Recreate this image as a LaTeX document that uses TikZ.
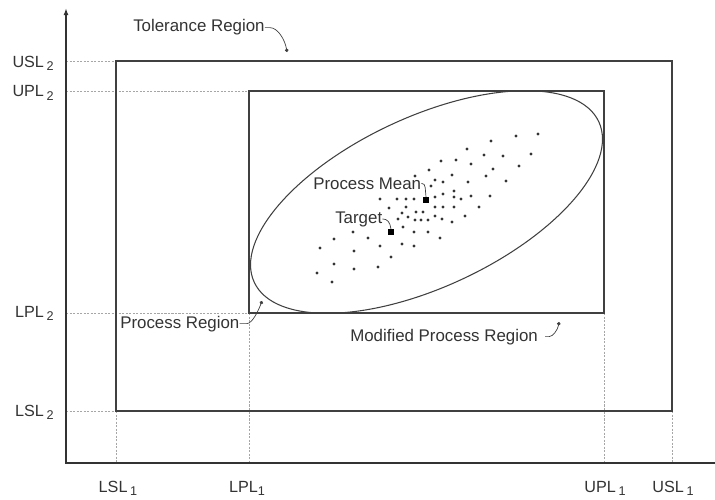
\documentclass[tikz,border=0pt]{standalone}
\usepackage{fontspec}
\setmainfont{Liberation Sans}
\usetikzlibrary{arrows.meta,calc}

\newcommand{\lsub}[2]{#1\,\raisebox{-0.45ex}{\small #2}}

\begin{document}
\begin{tikzpicture}[x=0.025cm,y=-0.025cm,
    axis/.style={line width=1.1pt,draw=black!80},
    region/.style={line width=0.75pt,draw=black!75},
    guide/.style={line width=0.4pt,draw=black!35,dash pattern=on 1.5pt off 1pt},
    lab/.style={text=black!80,font=\fontsize{12}{14}\selectfont,inner sep=0pt},
    ticklab/.style={text=black!80,font=\fontsize{11.5}{13}\selectfont,inner sep=0pt},
    leader/.style={line width=0.5pt,draw=black!75},
    sq/.style={rectangle,fill=black,inner sep=0pt,minimum size=3.8pt}]
  \useasboundingbox (0,0) rectangle (715,499);

  % guide lines
  \draw[guide] (66,61) -- (116,61);
  \draw[guide] (66,91) -- (249,91);
  \draw[guide] (66,313) -- (249,313);
  \draw[guide] (66,411) -- (116,411);
  \draw[guide] (116,411) -- (116,463);
  \draw[guide] (249,313) -- (249,463);
  \draw[guide] (604,313) -- (604,463);
  \draw[guide] (672,411) -- (672,463);

  % axes
  \draw[axis,-{Latex[length=5pt,width=3.5pt]}] (715,463) -- (66,463) -- (66,8);

  % regions
  \draw[region] (116,61) rectangle (672,411); % tolerance
  \draw[region] (249,91) rectangle (604,313); % modified process
  \coordinate (ctr) at (426.5,202);
  \draw[region,rotate around={25:(ctr)}] (ctr) ellipse [x radius=4.75cm,y radius=2.125cm];

  % data points
  \foreach \p in {(538,134),(516,136),(491,141),(467,149),(484,155),(503,156),(531,154),
      (441,161),(456,160),(471,164),(493,169),(519,166),
      (429,170),(452,175),(486,176),(506,181),(415,176),(435,180),(443,182),(468,182),
      (431,186),(454,191),(443,194),(414,199),(435,197),(454,197),(461,199),(471,196),(490,196),
      (435,207),(443,207),(454,207),(479,207),(423,212),(416,212),(435,216),(465,216),
      (380,199),(397,199),(406,199),(406,207),(389,208),(402,213),(408,217),(398,219),
      (415,220),(421,220),(428,220),(442,219),(452,222),
      (403,227),(353,232),(334,239),(368,238),(414,232),(428,232),(440,238),
      (320,248),(380,246),(402,244),(414,246),(354,251),(391,257),(334,264),
      (378,267),(354,269),(317,273),(332,282)}
    \fill[black!80] \p circle (1.1pt);
  \node[sq] (meansq) at (426,200) {};
  \node[sq] (targetsq) at (391,232) {};

  % axis labels
  \node[ticklab,anchor=base east] (usl2) at (54,67) {\lsub{USL}{2}};
  \node[ticklab,anchor=base east] (upl2) at (54,97) {\lsub{UPL}{2}};
  \node[ticklab,anchor=base east] (lpl2) at (54,317) {\lsub{LPL}{2}};
  \node[ticklab,anchor=base east] (lsl2) at (54,416) {\lsub{LSL}{2}};
  \node[ticklab,anchor=base] (lsl1) at (118,492) {\lsub{LSL}{1}};
  \node[ticklab,anchor=base] (lpl1) at (247,492) {LPL\raisebox{-0.45ex}{\small 1}};
  \node[ticklab,anchor=base] (upl1) at (605,492) {\lsub{UPL}{1}};
  \node[ticklab,anchor=base] (usl1) at (673,492) {\lsub{USL}{1}};

  % region labels
  \node[lab,anchor=base west] (tol) at (133,32) {Tolerance Region};
  \node[lab,anchor=base west] (proc) at (120,328) {Process Region};
  \node[lab,anchor=base west] (modproc) at (350,341) {Modified Process Region};
  \node[lab,anchor=base west] (mean) at (313,189) {Process Mean};
  \node[lab,anchor=base west] (target) at (335,223) {Target};
  \coordinate (tolend) at (287,52);
  \coordinate (procend) at (262,301);
  \coordinate (modend) at (559,322);

  % leaders
  \draw[leader,-{Circle[length=2.5pt]}] (tol.east) -- ++(5,0) .. controls +(8,0) and +(-2,-12) .. (tolend);
  \draw[leader,-{Circle[length=2.5pt]}] (proc.east) -- ++(7,0) .. controls +(6,0) and +(-3,8) .. (procend);
  \draw[leader,-{Circle[length=2.5pt]}] ($(modproc.east)+(7,0)$) -- ++(4,0) .. controls +(4,0) and +(-1,7) .. (modend);
  \draw[leader] (mean.east) .. controls +(5,0) and +(-1,-7) .. (meansq.north);
  \draw[leader] (target.east) .. controls +(5,0) and +(-1,-7) .. (targetsq.north);
\end{tikzpicture}
\end{document}
